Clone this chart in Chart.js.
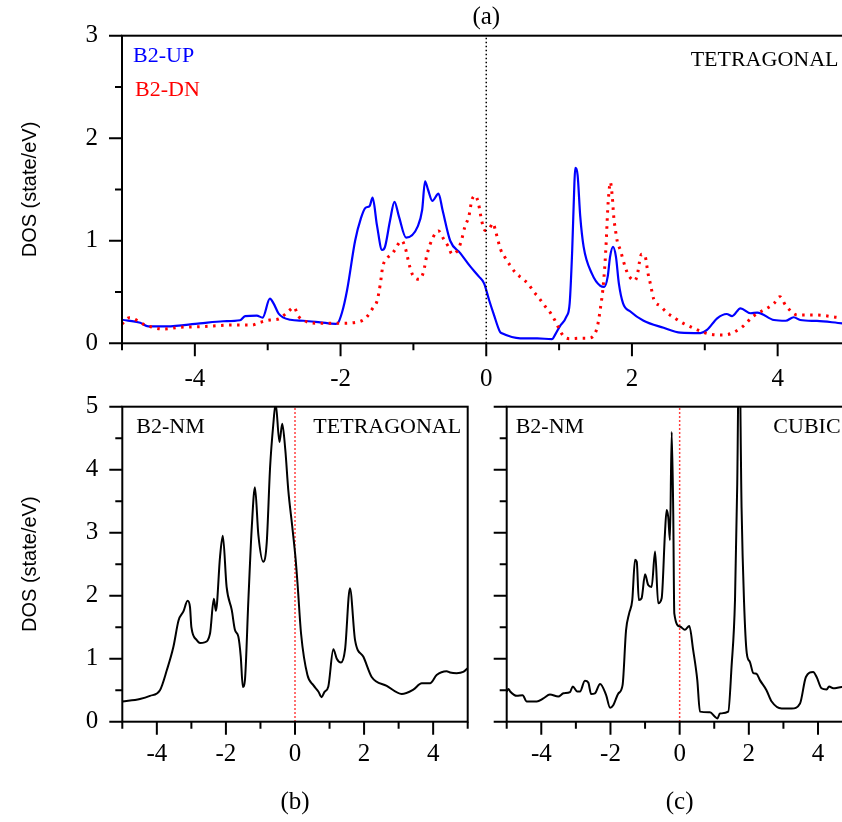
<!DOCTYPE html>
<html>
<head>
<meta charset="utf-8">
<script src="https://cdn.jsdelivr.net/npm/chart.js@4.4.1/dist/chart.umd.min.js"></script>
<style>
  html, body { margin: 0; padding: 0; background: #fff; overflow: hidden; width: 842px; height: 822px; }
  canvas { position: absolute; left: 0; top: 0; }
</style>
</head>
<body>
<canvas id="dosA" width="880" height="822"></canvas>
<canvas id="dosB" width="880" height="822"></canvas>
<canvas id="dosC" width="880" height="822"></canvas>
<script>
// energy (eV) vs DOS (state/eV)
const upData = [[-5.0,0.23],[-4.75,0.20],[-4.64,0.165],[-4.39,0.165],[-3.93,0.195],[-3.61,0.215],[-3.38,0.225],[-3.31,0.265],[-3.15,0.27],[-3.07,0.25],[-2.97,0.435],[-2.92,0.39],[-2.85,0.29],[-2.69,0.23],[-2.51,0.22],[-2.28,0.205],[-2.07,0.19],[-2.04,0.195],[-1.98,0.30],[-1.91,0.52],[-1.80,1.0],[-1.72,1.22],[-1.66,1.32],[-1.60,1.34],[-1.56,1.42],[-1.50,1.15],[-1.43,0.91],[-1.39,0.94],[-1.32,1.2],[-1.26,1.38],[-1.20,1.24],[-1.10,1.03],[-0.94,1.14],[-0.88,1.3],[-0.84,1.58],[-0.80,1.5],[-0.74,1.39],[-0.655,1.46],[-0.60,1.3],[-0.495,1.0],[-0.357,0.88],[-0.22,0.75],[-0.10,0.65],[-0.03,0.585],[0.04,0.42],[0.10,0.29],[0.19,0.11],[0.215,0.098],[0.467,0.049],[0.70,0.049],[0.90,0.04],[0.95,0.09],[1.01,0.165],[1.10,0.26],[1.145,0.39],[1.18,0.91],[1.21,1.56],[1.222,1.71],[1.254,1.64],[1.29,1.24],[1.337,0.94],[1.45,0.68],[1.566,0.56],[1.62,0.55],[1.667,0.65],[1.70,0.845],[1.74,0.94],[1.78,0.845],[1.82,0.585],[1.878,0.39],[1.978,0.31],[2.16,0.22],[2.435,0.152],[2.665,0.104],[2.94,0.1],[3.03,0.13],[3.17,0.244],[3.30,0.286],[3.375,0.266],[3.49,0.341],[3.63,0.293],[3.72,0.30],[3.95,0.227],[4.11,0.22],[4.22,0.254],[4.31,0.227],[4.54,0.218],[4.89,0.195],[5.0,0.19]];

const dnData = [[-5.0,0.188],[-4.90,0.25],[-4.68,0.178],[-4.43,0.139],[-4.20,0.156],[-3.93,0.162],[-3.47,0.178],[-3.22,0.178],[-3.10,0.205],[-2.97,0.227],[-2.85,0.237],[-2.72,0.309],[-2.64,0.351],[-2.58,0.266],[-2.49,0.218],[-2.33,0.195],[-2.0,0.195],[-1.75,0.21],[-1.65,0.25],[-1.56,0.34],[-1.50,0.41],[-1.456,0.57],[-1.42,0.75],[-1.36,0.83],[-1.28,0.885],[-1.16,1.0],[-1.11,0.926],[-1.05,0.747],[-1.01,0.666],[-0.916,0.624],[-0.86,0.70],[-0.815,0.861],[-0.73,1.034],[-0.655,1.096],[-0.586,1.018],[-0.52,0.943],[-0.47,0.87],[-0.40,0.9],[-0.35,0.98],[-0.29,1.144],[-0.24,1.235],[-0.197,1.398],[-0.15,1.44],[-0.106,1.36],[-0.06,1.186],[-0.014,1.1],[0.045,1.122],[0.092,1.171],[0.133,1.08],[0.2,0.91],[0.26,0.835],[0.33,0.757],[0.40,0.69],[0.49,0.634],[0.58,0.576],[0.65,0.504],[0.728,0.439],[0.797,0.371],[0.879,0.299],[0.94,0.227],[1.055,0.074],[1.145,0.045],[1.3,0.05],[1.40,0.05],[1.49,0.091],[1.53,0.178],[1.57,0.357],[1.60,0.52],[1.63,0.78],[1.648,1.008],[1.667,1.30],[1.685,1.479],[1.703,1.571],[1.73,1.43],[1.75,1.235],[1.78,1.073],[1.80,0.99],[1.84,0.91],[1.91,0.738],[1.96,0.656],[2.04,0.611],[2.08,0.69],[2.10,0.78],[2.13,0.868],[2.18,0.85],[2.22,0.683],[2.25,0.59],[2.30,0.429],[2.39,0.364],[2.48,0.299],[2.58,0.25],[2.69,0.2],[2.80,0.163],[2.90,0.13],[3.077,0.088],[3.26,0.081],[3.49,0.146],[3.67,0.266],[3.95,0.39],[4.03,0.455],[4.11,0.37],[4.27,0.276],[4.54,0.276],[4.89,0.25],[5.0,0.25]];

const tetData = [[-5.0,0.32],[-4.49,0.36],[-4.2,0.41],[-3.91,0.5],[-3.71,0.82],[-3.52,1.19],[-3.37,1.61],[-3.23,1.75],[-3.11,1.92],[-3.04,1.82],[-3.0,1.5],[-2.85,1.3],[-2.75,1.25],[-2.62,1.26],[-2.46,1.40],[-2.35,1.95],[-2.29,1.76],[-2.17,2.62],[-2.09,2.95],[-1.98,2.14],[-1.83,1.77],[-1.74,1.46],[-1.64,1.35],[-1.57,1.03],[-1.51,0.55],[-1.45,0.66],[-1.35,1.93],[-1.25,3.1],[-1.16,3.72],[-1.06,2.96],[-0.92,2.54],[-0.82,2.83],[-0.72,4.05],[-0.63,4.71],[-0.56,5.05],[-0.45,4.44],[-0.37,4.73],[-0.28,4.31],[-0.195,3.68],[-0.08,3.1],[0.02,2.57],[0.08,2.14],[0.175,1.4],[0.36,0.74],[0.53,0.58],[0.675,0.48],[0.77,0.39],[0.85,0.47],[0.965,0.56],[1.11,1.15],[1.21,1.0],[1.33,0.94],[1.45,1.15],[1.59,2.12],[1.74,1.29],[1.98,1.03],[2.22,0.71],[2.655,0.57],[3.09,0.44],[3.425,0.51],[3.67,0.61],[3.91,0.61],[4.10,0.74],[4.39,0.80],[4.49,0.78],[4.68,0.77],[4.87,0.79],[5.0,0.85]];

const cubData = [[-5.0,0.48],[-4.95,0.52],[-4.90,0.48],[-4.71,0.41],[-4.54,0.42],[-4.42,0.32],[-4.13,0.32],[-3.94,0.37],[-3.75,0.43],[-3.51,0.40],[-3.36,0.45],[-3.17,0.47],[-3.09,0.56],[-2.96,0.48],[-2.88,0.48],[-2.74,0.65],[-2.64,0.62],[-2.56,0.44],[-2.45,0.45],[-2.30,0.6],[-2.13,0.43],[-2.01,0.22],[-1.92,0.26],[-1.77,0.45],[-1.65,0.58],[-1.55,1.45],[-1.46,1.72],[-1.37,1.93],[-1.29,2.57],[-1.24,2.54],[-1.18,1.93],[-1.10,1.96],[-1.00,2.34],[-0.91,2.17],[-0.81,2.14],[-0.71,2.70],[-0.62,1.88],[-0.52,1.96],[-0.425,2.99],[-0.376,3.36],[-0.33,3.25],[-0.28,2.88],[-0.23,4.60],[-0.185,3.3],[-0.155,1.72],[0.01,1.51],[0.15,1.46],[0.28,1.52],[0.39,1.14],[0.51,0.66],[0.587,0.16],[0.876,0.15],[1.02,0.08],[1.09,0.05],[1.165,0.13],[1.405,0.16],[1.50,0.87],[1.60,1.93],[1.665,3.78],[1.72,6.2],[1.79,3.4],[1.86,1.93],[1.94,1.09],[2.03,0.95],[2.13,0.77],[2.22,0.76],[2.32,0.66],[2.51,0.50],[2.66,0.32],[2.95,0.21],[3.24,0.21],[3.48,0.29],[3.65,0.71],[3.86,0.79],[3.96,0.71],[4.10,0.53],[4.25,0.51],[4.32,0.56],[4.44,0.53],[4.69,0.55],[5.0,0.55]];

const xLabels = [-4, -2, 0, 2, 4];
const xMinor = [-5, -3, -1, 1, 3, 5];
const yLabelsA = [0, 1, 2, 3];
const yLabelsB = [0, 1, 2, 3, 4, 5];

const serif = 'Liberation Serif';
const pts = arr => arr.map(p => ({ x: p[0], y: p[1] }));
const halves = max => { const r = []; for (let v = 0.5; v < max; v += 1) r.push(v); return r; };

// frame, tick marks, panel label and in-plot notes
const panelPlugin = {
  id: 'panel',
  afterDraw(chart, args, o) {
    const { ctx, chartArea: a, scales: { x, y } } = chart;
    ctx.save();
    ctx.strokeStyle = '#000';
    ctx.lineWidth = 2;
    ctx.strokeRect(a.left, a.top, a.right - a.left, a.bottom - a.top);
    ctx.beginPath();
    xLabels.forEach(v => { const p = x.getPixelForValue(v); ctx.moveTo(p, a.bottom); ctx.lineTo(p, a.bottom + 13); });
    xMinor.forEach(v => { const p = x.getPixelForValue(v); ctx.moveTo(p, a.bottom); ctx.lineTo(p, a.bottom + 7); });
    o.yMajor.forEach(v => { const p = y.getPixelForValue(v); ctx.moveTo(a.left, p); ctx.lineTo(a.left - 13, p); });
    halves(y.max).forEach(v => { const p = y.getPixelForValue(v); ctx.moveTo(a.left, p); ctx.lineTo(a.left - 7, p); });
    ctx.stroke();

    ctx.fillStyle = '#000';
    ctx.font = '25px "' + serif + '"';
    ctx.textAlign = 'center';
    ctx.textBaseline = 'middle';
    ctx.fillText(o.label, x.getPixelForValue(0), o.labelY);

    ctx.font = '22px "' + serif + '"';
    o.notes.forEach(n => {
      ctx.fillStyle = n.color;
      ctx.textAlign = n.right ? 'right' : 'left';
      const px = n.right ? a.right - n.dx : a.left + n.dx;
      ctx.fillText(n.text, px, a.top + n.dy);
    });
    ctx.restore();
  }
};

function makeChart(id, cfg) {
  const tickFont = { family: serif, size: 25 };
  return new Chart(document.getElementById(id), {
    type: 'line',
    data: { datasets: cfg.datasets },
    options: {
      responsive: false,
      animation: false,
      devicePixelRatio: 1,
      layout: { padding: cfg.padding },
      elements: { point: { radius: 0 } },
      plugins: {
        legend: { display: false },
        tooltip: { enabled: false },
        panel: cfg.panel
      },
      scales: {
        x: {
          type: 'linear', min: -5, max: 5,
          afterBuildTicks: s => { s.ticks = xLabels.map(v => ({ value: v })); },
          afterFit: s => { s.height = 60; },
          grid: { display: true, drawOnChartArea: false, drawTicks: true, tickLength: 13, color: 'rgba(0,0,0,0)' },
          border: { display: false },
          ticks: { font: tickFont, color: '#000', padding: cfg.xPad, maxRotation: 0, autoSkip: false, callback: v => String(v) }
        },
        y: {
          type: 'linear', min: 0, max: cfg.yMax,
          afterBuildTicks: s => { s.ticks = cfg.yLabels.map(v => ({ value: v })); },
          afterFit: s => { s.width = cfg.yWidth; },
          grid: { display: true, drawOnChartArea: false, drawTicks: true, tickLength: 13, color: 'rgba(0,0,0,0)' },
          border: { display: false },
          ticks: { display: cfg.yTicks, font: tickFont, color: '#000', padding: 11, callback: v => String(v) },
          title: {
            display: cfg.yTicks, text: 'DOS (state/eV)', color: '#000',
            font: { family: 'Liberation Sans', size: 20 }, padding: { top: 18, bottom: 0 }
          }
        }
      }
    },
    plugins: [panelPlugin]
  });
}

function zeroLine(yMax, color) {
  return {
    data: [{ x: 0, y: 0 }, { x: 0, y: yMax }],
    borderColor: color, borderWidth: 1.5, borderDash: [1.5, 2.5], tension: 0
  };
}

function curve(arr, color, width, dash) {
  return {
    data: pts(arr), borderColor: color, borderWidth: width, borderDash: dash || [],
    cubicInterpolationMode: 'monotone', fill: false
  };
}

// (a) spin-polarised, tetragonal
makeChart('dosA', {
  yMax: 3, yLabels: yLabelsA, yWidth: 122, yTicks: true, xPad: 8,
  padding: { left: 0, top: 35.7, right: 29.5, bottom: 822 - 343.3 - 60 },
  datasets: [
    zeroLine(3, '#000'),
    curve(dnData, '#ff0000', 3, [2.5, 5.5]),
    curve(upData, '#0000ff', 2.2)
  ],
  panel: {
    yMajor: yLabelsA, label: '(a)', labelY: 17,
    notes: [
      { text: 'B2-UP', color: '#0000ff', dx: 11, dy: 21 },
      { text: 'B2-DN', color: '#ff0000', dx: 13, dy: 55 },
      { text: 'TETRAGONAL', color: '#000', dx: 12, dy: 25, right: true }
    ]
  }
});

// (b) non-magnetic, tetragonal
makeChart('dosB', {
  yMax: 5, yLabels: yLabelsB, yWidth: 122.3, yTicks: true, xPad: 5,
  padding: { left: 0, top: 406.7, right: 880 - 467.7, bottom: 822 - 721.7 - 60 },
  datasets: [
    curve(tetData, '#000', 2),
    zeroLine(5, '#ff0000')
  ],
  panel: {
    yMajor: yLabelsB, label: '(b)', labelY: 802,
    notes: [
      { text: 'B2-NM', color: '#000', dx: 14, dy: 21 },
      { text: 'TETRAGONAL', color: '#000', dx: 6.5, dy: 21, right: true }
    ]
  }
});

// (c) non-magnetic, cubic
makeChart('dosC', {
  yMax: 5, yLabels: yLabelsB, yWidth: 20, yTicks: false, xPad: 5,
  padding: { left: 486.7, top: 406.7, right: 880 - 852.6, bottom: 822 - 721.7 - 60 },
  datasets: [
    curve(cubData, '#000', 2),
    zeroLine(5, '#ff0000')
  ],
  panel: {
    yMajor: yLabelsB, label: '(c)', labelY: 802,
    notes: [
      { text: 'B2-NM', color: '#000', dx: 9, dy: 21 },
      { text: 'CUBIC', color: '#000', dx: 12, dy: 21, right: true }
    ]
  }
});
</script>
</body>
</html>
